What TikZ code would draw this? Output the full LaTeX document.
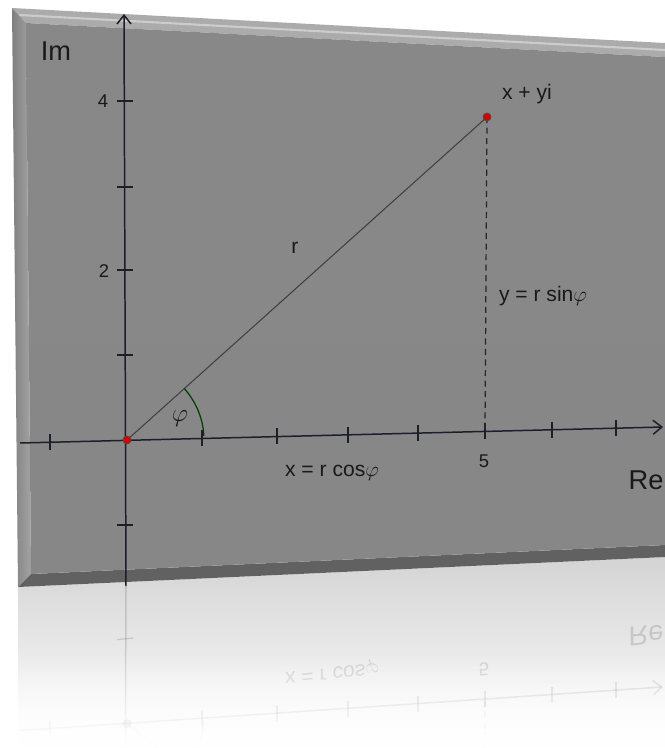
\documentclass[tikz,border=0pt]{standalone}
\usepackage{fontspec}
\setmainfont{Liberation Sans}
\usetikzlibrary{arrows.meta, calc, fadings}

\definecolor{cara}{HTML}{8E8E8E}
\definecolor{tinta}{HTML}{1E1E2A}

\newif\ifplanocompleto
\planocompletotrue

\newcommand{\dibujoplano}{%
  \coordinate (O) at (127,440);
  \coordinate (z) at (487,117);
  \coordinate (pie) at (485,431);
  \coordinate (ejeyini) at (126,586);
  \coordinate (ejeyfin) at (124,14);
  \coordinate (ejexini) at (20,443);
  \coordinate (ejexfin) at (663,427);
  \draw[eje] (ejexini) -- (ejexfin);
  \draw[eje] (ejeyini) -- (ejeyfin);
  \foreach \tx in {50,202,277,348,418,485,552,616}
    \draw[marca] (\tx,{432-0.0245*(\tx-127)}) -- ++(0,16);
  \foreach \ty in {101,187,270,355,525}
    \draw[marca] (117,\ty) -- ++(16,0);
  \draw[radio] (O) -- (z);
  \draw[proyeccion] (z) -- (pie);
  \draw[arco] ($(O)+(3:1.54cm)$) arc[start angle=3, end angle=42, radius=1.54cm];
  \node[punto] (pO) at (O) {};
  \node[punto] (pz) at (z) {};
  \node[eti, font=\fontsize{15.5}{17}\selectfont] (re) at (646,480) {Re};
  \node[num] (cinco) at (484,461) {5};
  \node[eti] (coseno) at (332,473) {x = r cos$\varphi$};
  \ifplanocompleto
    \node[eti, font=\fontsize{15.5}{17}\selectfont] (im) at (56,51) {Im};
    \node[num] (cuatro) at (103,101) {4};
    \node[num] (dos) at (104,271) {2};
    \node[eti] (r) at (295,248) {r};
    \node[eti] (zeti) at (527,94) {x + yi};
    \node[eti] (seno) at (543,296) {y = r sin$\varphi$};
    \node[eti, font=\fontsize{14}{16}\selectfont] (fi) at (180,419) {$\varphi$};
  \fi
}

\begin{document}
\begin{tikzpicture}[
        x=0.02cm, y=-0.02cm,
        eje/.style={line width=0.85pt, draw=tinta, -{Straight Barb[length=5pt, width=8pt]}},
        marca/.style={line width=0.75pt, draw=tinta},
        radio/.style={line width=0.6pt, draw=black!75},
        proyeccion/.style={line width=0.7pt, draw=black!85, dash pattern=on 3.5pt off 2.5pt},
        arco/.style={line width=0.7pt, draw=green!25!black},
        punto/.style={circle, fill=red!85!black, draw=black!70, line width=0.4pt, inner sep=0pt, minimum size=4.6pt},
        eti/.style={text=black!90, font=\fontsize{12}{14}\selectfont, inner sep=0pt},
        num/.style={text=black!90, font=\fontsize{10.5}{12}\selectfont, inner sep=0pt}
    ]
    \useasboundingbox (0,0) rectangle (665,748);

    % reflejo
    \shade[top color=black!17, bottom color=white] (18,587) -- (665,557) -- (665,748) -- (18,748) -- cycle;
    \begin{scope}
        \clip (18,587) -- (665,557) -- (665,748) -- (18,748) -- cycle;
        \begin{scope}[cm={1,0.09274,0,-1,(0cm,-23.513cm)}, transform shape, opacity=0.15]
            \planocompletofalse
            \dibujoplano
        \end{scope}
    \end{scope}
    \fill[white, path fading=north] (18,650) rectangle (665,748);

    % panel
    \fill[black!33] (12,8) -- (665,43) -- (665,57) -- (26,23) -- cycle;
    \draw[white!80!black, line width=1.2pt] (19,15) -- (665,50);
    \shade[left color=black!50, right color=black!36] (12,8) -- (26,23) -- (31,574) -- (18,587) -- cycle;
    \fill[black!62] (18,587) -- (31,574) -- (665,545) -- (665,557) -- cycle;
    \shade[top color=cara!105, bottom color=cara!95!black] (26,23) -- (665,57) -- (665,545) -- (31,574) -- cycle;

    \dibujoplano
\end{tikzpicture}
\end{document}
